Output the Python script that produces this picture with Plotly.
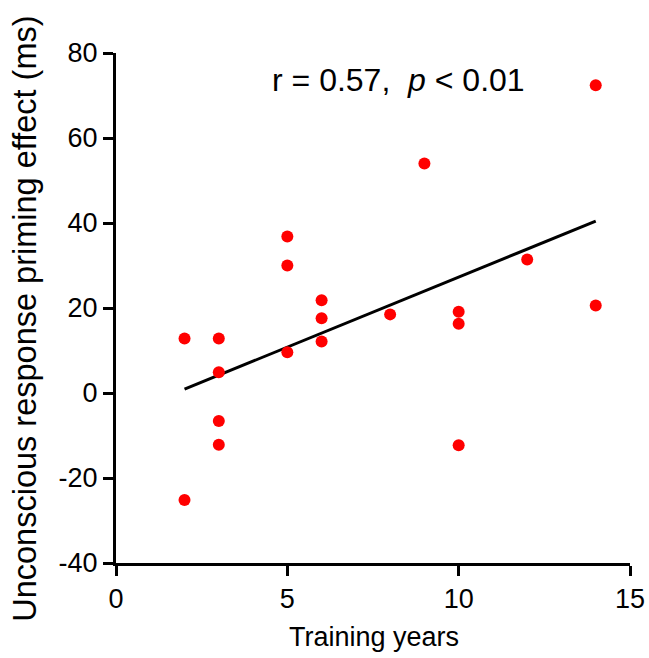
import numpy as np
import plotly.graph_objects as go

training_years = [2, 2, 3, 3, 3, 3, 5, 5, 5, 6, 6, 6, 8, 9, 10, 10, 10, 12, 14, 14]
priming_effect = [12.8, -25.2, 12.8, 4.9, -6.6, -12.2, 36.8, 30.0, 9.6, 21.8, 17.6, 12.1,
                  18.5, 54.0, 19.1, 16.3, -12.3, 31.4, 72.4, 20.6]

x_ticks = [0, 5, 10, 15]
x_tick_labels = ["0", "5", "10", "15"]
y_ticks = [-40, -20, 0, 20, 40, 60, 80]
y_tick_labels = ["-40", "-20", "0", "20", "40", "60", "80"]

slope, intercept = np.polyfit(training_years, priming_effect, 1)
fit_x = [min(training_years), max(training_years)]
fit_y = [slope * v + intercept for v in fit_x]

FONT = "Liberation Sans, Arial, sans-serif"

fig = go.Figure()
fig.add_trace(go.Scatter(x=fit_x, y=fit_y, mode="lines",
                         line=dict(color="black", width=3), showlegend=False))
fig.add_trace(go.Scatter(x=training_years, y=priming_effect, mode="markers",
                         marker=dict(color="#ff0000", size=12), showlegend=False))

axis_common = dict(showline=True, linecolor="black", linewidth=3, ticks="outside",
                   ticklen=10, tickwidth=3, tickcolor="black", showgrid=False,
                   zeroline=False, automargin=False, ticklabeloverflow="allow",
                   tickfont=dict(family=FONT, size=27, color="black"))

fig.update_xaxes(range=[0, 15], tickvals=x_ticks, ticktext=x_tick_labels, **axis_common)
fig.update_yaxes(range=[-40, 80], tickvals=y_ticks, ticktext=y_tick_labels, **axis_common)

fig.update_layout(
    width=649, height=658,
    margin=dict(l=116, r=19, t=53, b=95),
    plot_bgcolor="white", paper_bgcolor="white",
    annotations=[
        dict(text="r = 0.57,  <i>p</i> < 0.01", x=0.55, y=0.947, xref="paper", yref="paper",
             showarrow=False, xanchor="center", yanchor="middle",
             font=dict(family=FONT, size=32, color="black")),
        dict(text="Training years", x=0.501, y=-0.145, xref="paper", yref="paper",
             showarrow=False, xanchor="center", yanchor="middle",
             font=dict(family=FONT, size=27, color="black")),
        dict(text="Unconscious response priming effect (ms)", x=-0.176, y=0.478,
             xref="paper", yref="paper", textangle=-90,
             showarrow=False, xanchor="center", yanchor="middle",
             font=dict(family=FONT, size=32.5, color="black")),
    ],
)

fig.write_html("out.html", config={"displayModeBar": False},
               post_script="document.body.style.margin='0px';document.body.style.overflow='hidden';")
